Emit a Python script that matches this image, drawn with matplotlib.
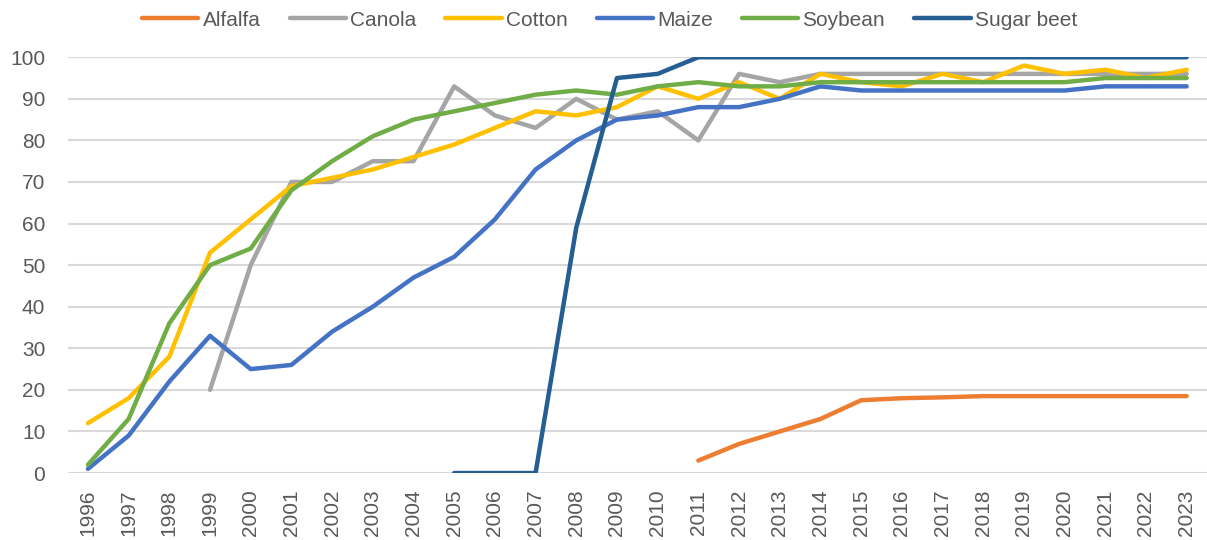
import numpy as np
import matplotlib.pyplot as plt

plt.rcParams.update({"font.family": ["Liberation Sans", "DejaVu Sans"],
                     "font.size": 15})

years = np.arange(1996, 2024)

alfalfa_years = np.arange(2011, 2024)
alfalfa = [3, 7, 10, 13, 17.5, 18, 18.2, 18.5, 18.5, 18.5, 18.5, 18.5, 18.5]

canola_years = np.arange(1999, 2024)
canola = [20, 50, 70, 70, 75, 75, 93, 86, 83, 90, 85, 87, 80, 96, 94, 96,
          96, 96, 96, 96, 96, 96, 96, 96, 96]

cotton = [12, 18, 28, 53, 61, 69, 71, 73, 76, 79, 83, 87, 86, 88, 93, 90,
          94, 90, 96, 94, 93, 96, 94, 98, 96, 97, 95, 97]

maize = [1, 9, 22, 33, 25, 26, 34, 40, 47, 52, 61, 73, 80, 85, 86, 88,
         88, 90, 93, 92, 92, 92, 92, 92, 92, 93, 93, 93]

soybean = [2, 13, 36, 50, 54, 68, 75, 81, 85, 87, 89, 91, 92, 91, 93, 94,
           93, 93, 94, 94, 94, 94, 94, 94, 94, 95, 95, 95]

beet_years = np.arange(2005, 2024)
sugar_beet = [0, 0, 0, 59, 95, 96, 100, 100, 100, 100, 100, 100, 100, 100,
              100, 100, 100, 100, 100]

fig = plt.figure(figsize=(12.07, 5.4), dpi=100)
ax = fig.add_axes([0.056, 0.124, 0.944, 0.77])

lw = 3.2
ax.plot(alfalfa_years, alfalfa, color="#ED7D31", lw=lw, label="Alfalfa", solid_capstyle="round")
ax.plot(canola_years, canola, color="#A5A5A5", lw=lw, label="Canola", solid_capstyle="round")
ax.plot(years, cotton, color="#FFC000", lw=lw, label="Cotton", solid_capstyle="round")
ax.plot(years, maize, color="#4472C4", lw=lw, label="Maize", solid_capstyle="round")
ax.plot(years, soybean, color="#70AD47", lw=lw, label="Soybean", solid_capstyle="round")
ax.plot(beet_years, sugar_beet, color="#255E91", lw=lw, label="Sugar beet", solid_capstyle="round")

ax.set_xlim(1995.5, 2023.5)
ax.set_ylim(0, 100)
ax.set_yticks(np.arange(0, 101, 10))
ax.set_xticks(years)
ax.set_xticklabels([str(y) for y in years], rotation=90)
ax.tick_params(length=0, colors="#595959", labelsize=15)
ax.tick_params(axis="x", pad=12)
ax.tick_params(axis="y", pad=16)
ax.grid(axis="y", color="#D9D9D9", lw=1.5)
ax.set_axisbelow(True)
for s in ax.spines.values():
    s.set_visible(False)

fig.legend(loc="upper center", bbox_to_anchor=(0.505, 1.015), ncol=6, frameon=False,
           handlelength=2.7, handletextpad=0.2, columnspacing=1.4, fontsize=15,
           labelcolor="#595959")

fig.savefig("out.png", dpi=100)
